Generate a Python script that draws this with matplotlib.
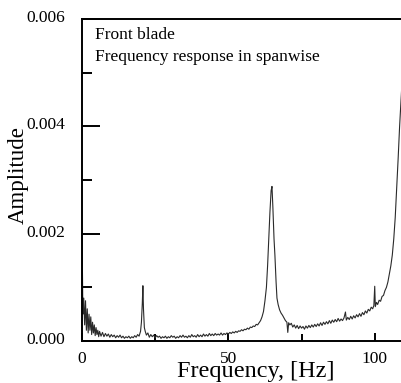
import numpy as np
import matplotlib
matplotlib.use("Agg")
import matplotlib.pyplot as plt
import matplotlib.transforms as mtransforms
from matplotlib.ticker import MultipleLocator

# spectrum, amplitude in units of 1e-4
freq = [0.0, 0.3, 0.6, 0.9, 1.2, 1.5, 1.8, 2.1, 2.4, 2.7, 3.0, 3.3, 3.6, 3.9, 4.2, 4.5, 4.8,
        5.1, 5.4, 5.7, 6.0, 6.5, 7.0, 7.5, 8.0, 8.5, 9.0, 9.5, 10.0, 10.5, 11.0, 11.5, 12.0,
        12.5, 13.0, 13.5, 14.0, 14.5, 15.0, 15.5, 16.0, 16.5, 17.0, 17.5, 18.0, 18.5, 19.0,
        19.5, 20.0, 20.3, 20.6, 20.8, 21.0, 21.3, 21.6, 22.0, 22.5, 23.0, 23.5, 24.0, 24.5,
        25.0, 25.5, 26.0, 26.5, 27.0, 27.5, 28.0, 28.5, 29.0, 29.5, 30.0, 30.5, 31.0, 31.5,
        32.0, 32.5, 33.0, 33.5, 34.0, 34.5, 35.0, 35.5, 36.0, 36.5, 37.0, 37.5, 38.0, 38.5,
        39.0, 39.5, 40.0, 40.5, 41.0, 41.5, 42.0, 42.5, 43.0, 43.5, 44.0, 44.5, 45.0, 45.5,
        46.0, 46.5, 47.0, 47.5, 48.0, 48.5, 49.0, 49.5, 50.0, 50.5, 51.0, 51.5, 52.0, 52.5,
        53.0, 53.5, 54.0, 54.5, 55.0, 55.5, 56.0, 56.5, 57.0, 57.5, 58.0, 58.5, 59.0, 59.5,
        60.0, 60.5, 61.0, 61.5, 62.0, 62.5, 63.0, 63.4, 63.8, 64.2, 64.6, 64.9, 65.2, 65.6,
        65.9, 66.3, 66.6, 67.0, 67.5, 68.0, 68.5, 69.0, 69.5, 70.0, 70.3, 70.6, 71.0, 71.5,
        72.0, 72.5, 73.0, 73.5, 74.0, 74.5, 75.0, 75.5, 76.0, 76.5, 77.0, 77.5, 78.0, 78.5,
        79.0, 79.5, 80.0, 80.5, 81.0, 81.5, 82.0, 82.5, 83.0, 83.5, 84.0, 84.5, 85.0, 85.5,
        86.0, 86.5, 87.0, 87.5, 88.0, 88.5, 89.0, 89.5, 90.0, 90.3, 90.8, 91.3, 91.8, 92.3,
        92.8, 93.3, 93.8, 94.3, 94.8, 95.3, 95.8, 96.3, 96.8, 97.3, 97.8, 98.3, 98.8, 99.3,
        99.7, 100.0, 100.2, 100.6, 101.0, 101.5, 102.0, 102.5, 103.0, 103.5, 104.0, 104.5,
        105.0, 105.5, 106.0, 106.5, 107.0, 107.5, 108.0, 108.5, 109.0, 109.5, 110.0]
amp = [21.0, 5.0, 8.0, 3.0, 7.5, 2.0, 6.0, 1.5, 5.0, 2.0, 4.5, 1.2, 3.5, 1.5, 3.0, 1.0, 2.5,
       1.2, 2.0, 0.8, 1.8, 0.9, 1.6, 0.8, 1.4, 0.9, 1.3, 0.7, 1.2, 0.8, 1.1, 0.6, 1.0,
       0.7, 1.1, 0.6, 0.9, 0.5, 0.8, 0.6, 0.9, 0.5, 0.8, 0.6, 1.0, 0.7, 1.2,
       0.9, 1.8, 3.5, 7.0, 10.3, 6.0, 2.5, 1.8, 1.1, 1.5, 0.7, 1.2, 0.8, 1.1,
       0.6, 1.0, 0.7, 0.9, 0.5, 0.8, 0.6, 0.9, 0.5, 0.8, 0.6, 1.0, 0.7, 0.9,
       0.5, 0.8, 0.6, 1.0, 0.7, 1.1, 0.7, 0.9, 0.6, 1.0, 0.7, 1.2, 0.8, 1.0,
       0.7, 1.2, 0.8, 1.1, 0.8, 1.3, 0.9, 1.2, 0.9, 1.4, 1.0, 1.3, 1.0, 1.4,
       1.1, 1.3, 1.1, 1.5, 1.1, 1.4, 1.2, 1.5, 1.3, 1.6, 1.4, 1.7, 1.5, 1.8,
       1.6, 1.9, 1.8, 2.1, 1.9, 2.2, 2.1, 2.4, 2.2, 2.6, 2.5, 2.8, 2.7, 3.1,
       3.0, 3.4, 3.8, 4.5, 5.5, 7.5, 10.0, 14.0, 19.0, 24.0, 28.0, 28.8, 25.0, 19.0,
       16.0, 11.0, 8.0, 6.8, 5.8, 5.2, 4.8, 4.3, 3.8, 3.5, 1.6, 3.4, 3.0, 3.3,
       2.6, 3.0, 2.4, 2.9, 2.3, 2.8, 2.4, 2.7, 2.2, 2.8, 2.4, 2.9, 2.5, 3.0,
       2.6, 3.1, 2.7, 3.2, 2.8, 3.4, 2.9, 3.5, 3.1, 3.6, 3.2, 3.8, 3.3, 3.9,
       3.5, 4.0, 3.6, 4.2, 3.7, 4.1, 3.8, 4.3, 5.4, 3.9, 4.4, 4.0, 4.6, 4.1,
       4.7, 4.3, 4.9, 4.5, 5.1, 4.6, 5.3, 4.9, 5.6, 5.2, 5.9, 5.6, 6.3, 6.0,
       6.6, 10.2, 6.4, 7.2, 6.8, 7.6, 7.4, 8.3, 8.5, 9.4, 10.0, 11.0,
       12.5, 14.0, 16.0, 19.0, 23.0, 28.5, 34.0, 40.0, 45.0, 50.0, 56.0]

x_ticks = [0, 50, 100]
y_ticks = [0.000, 0.002, 0.004, 0.006]

plt.rcParams['font.family'] = ['Liberation Serif', 'DejaVu Serif']

W, H = 401, 383
fig = plt.figure(figsize=(W / 100, H / 100), dpi=100)
# axes spans 82..404 px horizontally (right edge falls off the canvas)
ax = fig.add_axes([82 / W, 1 - 341 / H, 322 / W, 322 / H])

ax.plot(freq, np.array(amp) * 1e-4, color='#2a2a2a', lw=0.8)

ax.set_xlim(0, 110)
ax.set_ylim(0, 0.006)
ax.set_xticks(x_ticks)
ax.set_yticks(y_ticks)
ax.set_yticklabels(['%.3f' % v for v in y_ticks])
ax.xaxis.set_minor_locator(MultipleLocator(25))
ax.yaxis.set_minor_locator(MultipleLocator(0.001))

ax.tick_params(axis='both', which='both', direction='in', width=1.4, labelsize=12.5)
ax.tick_params(axis='y', which='major', length=13, pad=12)
ax.tick_params(axis='y', which='minor', length=7)
ax.tick_params(axis='x', which='major', length=6, pad=7)
ax.tick_params(axis='x', which='minor', length=5)

# y tick labels sit a few pixels above their ticks in the reference
shift = mtransforms.ScaledTranslation(0, 3 / 100, fig.dpi_scale_trans)
for lab in ax.get_yticklabels():
    lab.set_transform(lab.get_transform() + shift)

for s in ['left', 'top', 'bottom']:
    ax.spines[s].set_linewidth(1.4)
ax.spines['right'].set_visible(False)

ax.set_xlabel('Frequency, [Hz]', fontsize=17.5)
ax.xaxis.set_label_coords((256 - 82) / 322, -0.062)
ax.set_ylabel('Amplitude', fontsize=16.5)
ax.yaxis.set_label_coords(-0.165, (341 - 175) / 322)

ax.text(0.04, 0.95, 'Front blade', transform=ax.transAxes, fontsize=12.5, va='center')
ax.text(0.04, 0.882, 'Frequency response in spanwise', transform=ax.transAxes,
        fontsize=12.5, va='center')

fig.savefig('out.png', dpi=100)
